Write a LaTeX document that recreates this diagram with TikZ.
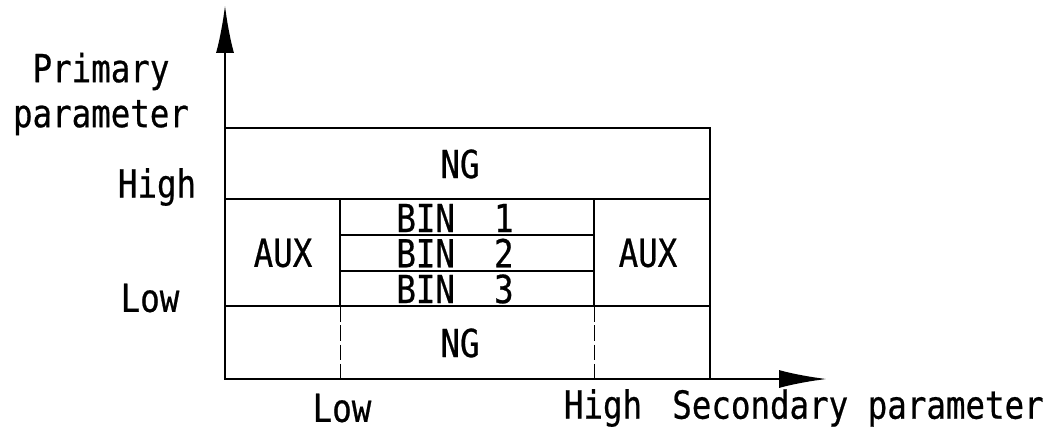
\documentclass[tikz,border=0pt]{standalone}
\usepackage{fontspec}
\setmonofont[FakeStretch=0.84,FakeBold=0.6]{DejaVu Sans Mono}
\usetikzlibrary{arrows.meta}

\def\axisarrow{-{Latex[length=0.96cm,width=0.36cm]}}

\begin{document}
\begin{tikzpicture}[x=0.02cm, y=-0.02cm, line width=1.5pt,
                    lbl/.style={font=\ttfamily\fontsize{22}{25.6}\selectfont, inner sep=0pt, align=center}]
  \useasboundingbox (0,0) rectangle (1062,430);
  % axes
  \coordinate (O) at (225,379);
  \coordinate (ytip) at (225,5);
  \coordinate (xtip) at (827,379);
  \draw[\axisarrow] (O) -- (ytip);
  \draw[\axisarrow] (O) -- (xtip);
  % regions
  \draw (225,128) rectangle (710,379);
  \draw (225,199) -- (710,199);
  \draw (225,306) -- (710,306);
  \draw (340,199) -- (340,306) (594,199) -- (594,306);
  \draw (340,235) -- (594,235) (340,271) -- (594,271);
  \draw[thin, dash pattern=on 9pt off 2pt] (340,306) -- (340,379) (594,306) -- (594,379);
  % texts
  \node[lbl] (ngtop) at (460,164) {NG};
  \node[lbl] (auxl) at (283,253) {AUX};
  \node[lbl] (bin1) at (455,218) {BIN~~1};
  \node[lbl] (bin2) at (455,253) {BIN~~2};
  \node[lbl] (bin3) at (455,289) {BIN~~3};
  \node[lbl] (auxr) at (648,253) {AUX};
  \node[lbl] (ngbot) at (460,343) {NG};
  \node[lbl] (ylabel) at (101,94) {Primary\\parameter};
  \node[lbl] (yhigh) at (157,187) {High};
  \node[lbl] (ylow) at (150,298) {Low};
  \node[lbl] (xlow) at (342,408) {Low};
  \node[lbl] (xhigh) at (603,408) {High};
  \node[lbl] (xlabel) at (858,408) {Secondary parameter};
\end{tikzpicture}
\end{document}
